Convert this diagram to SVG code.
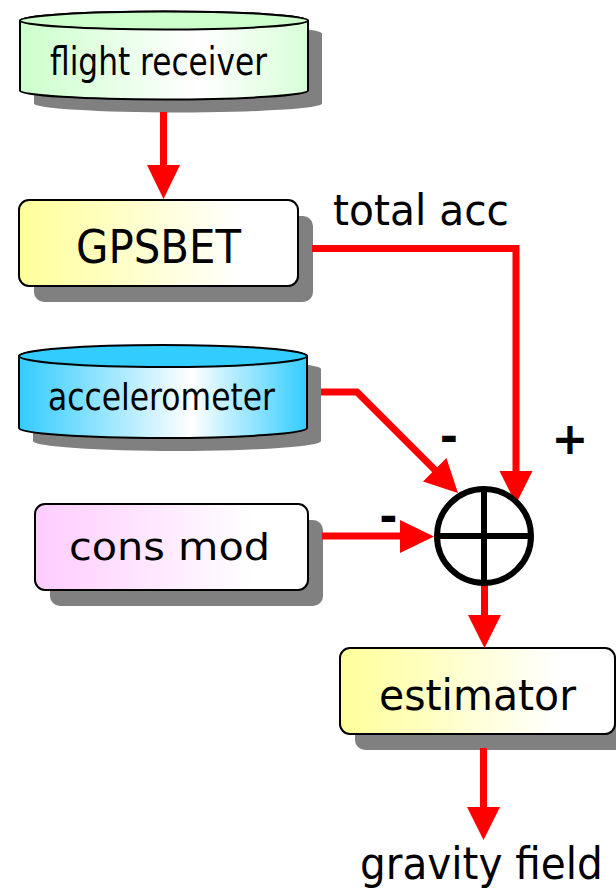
<svg xmlns="http://www.w3.org/2000/svg" width="616" height="892" viewBox="0 0 616 892">
  <defs>
    <linearGradient id="gYellow" x1="0" y1="0" x2="1" y2="0">
      <stop offset="0" stop-color="#FFFF99"/>
      <stop offset="0.8" stop-color="#FFFFFF"/>
      <stop offset="1" stop-color="#FFFFFF"/>
    </linearGradient>
    <linearGradient id="gPink" x1="0" y1="0" x2="1" y2="0">
      <stop offset="0" stop-color="#FFCCFF"/>
      <stop offset="0.8" stop-color="#FFFFFF"/>
      <stop offset="1" stop-color="#FFFFFF"/>
    </linearGradient>
    <linearGradient id="gGreen" x1="0" y1="0" x2="1" y2="0">
      <stop offset="0" stop-color="#CCFFCC"/>
      <stop offset="0.62" stop-color="#FFFFFF"/>
      <stop offset="1" stop-color="#D8FFD8"/>
    </linearGradient>
    <linearGradient id="gCyan" x1="0" y1="0" x2="1" y2="0">
      <stop offset="0" stop-color="#33CCFF"/>
      <stop offset="0.6" stop-color="#FFFFFF"/>
      <stop offset="1" stop-color="#33CCFF"/>
    </linearGradient>
  </defs>
  <style>
    .shadow { fill: #808080; }
    .outline { stroke: #000000; stroke-width: 2; }
    .label { font-family: "DejaVu Sans", "Liberation Sans", sans-serif; fill: #000000; }
    .sign { font-family: "DejaVu Sans", "Liberation Sans", sans-serif; font-weight: bold; font-size: 44px; fill: #000000; text-anchor: middle; }
    .wire { fill: none; stroke: #FF0000; stroke-width: 7; stroke-linejoin: miter; }
    .head { fill: #FF0000; }
  </style>
  <rect width="616" height="892" fill="#FFFFFF"/>

  <!-- source cylinder -->
  <g id="flight-receiver">
    <path class="shadow" d="M34,33.5 v70 a144,9 0 0 0 288,0 v-70 a144,9 0 0 0 -288,0 z"/>
    <path class="outline" fill="url(#gGreen)" d="M20,20.5 v70 a144,9 0 0 0 288,0 v-70 a144,9 0 0 0 -288,0 z"/>
    <ellipse class="outline" cx="164" cy="20.5" rx="144" ry="9" fill="#CCFFCC"/>
    <text class="label" x="50" y="75" font-size="39" textLength="217" lengthAdjust="spacingAndGlyphs">flight receiver</text>
  </g>

  <g id="gpsbet">
    <rect class="shadow" x="34" y="216" width="279" height="86" rx="10"/>
    <rect class="outline" x="19" y="200" width="279" height="86" rx="10" fill="url(#gYellow)"/>
    <text class="label" x="76" y="263" font-size="46" textLength="165" lengthAdjust="spacingAndGlyphs">GPSBET</text>
  </g>

  <g id="accelerometer">
    <path class="shadow" d="M33,369 v72 a144,10 0 0 0 288,0 v-72 a144,10 0 0 0 -288,0 z"/>
    <path class="outline" fill="url(#gCyan)" d="M19,356 v72 a144,10 0 0 0 288,0 v-72 a144,10 0 0 0 -288,0 z"/>
    <ellipse class="outline" cx="163" cy="356" rx="144" ry="11" fill="#33CCFF"/>
    <text class="label" x="48" y="410" font-size="38" textLength="227" lengthAdjust="spacingAndGlyphs">accelerometer</text>
  </g>

  <g id="cons-mod">
    <rect class="shadow" x="50" y="520" width="273" height="86" rx="10"/>
    <rect class="outline" x="35" y="504" width="273" height="86" rx="10" fill="url(#gPink)"/>
    <text class="label" x="69" y="560" font-size="38" textLength="201" lengthAdjust="spacingAndGlyphs">cons mod</text>
  </g>

  <g id="estimator">
    <rect class="shadow" x="355" y="664" width="275" height="86" rx="10"/>
    <rect class="outline" x="340" y="648" width="275" height="86" rx="10" fill="url(#gYellow)"/>
    <text class="label" x="379" y="710" font-size="42" textLength="197" lengthAdjust="spacingAndGlyphs">estimator</text>
  </g>

  <g id="connectors">
    <!-- flight receiver to GPSBET -->
    <line class="wire" x1="163.5" y1="112" x2="163.5" y2="166"/>
    <polygon class="head" points="147,165 180,165 163.5,199"/>
    <!-- total acceleration into the summing junction -->
    <polyline class="wire" points="312,248.5 516,248.5 516,472"/>
    <polygon class="head" points="499.5,471 532.5,471 516,504"/>
    <!-- accelerometer into the summing junction -->
    <polyline class="wire" points="321,392 357,392 436,471"/>
    <polygon class="head" points="446.4,458 423,481.4 458,493"/>
    <!-- model into the summing junction -->
    <line class="wire" x1="322" y1="536" x2="401" y2="536"/>
    <polygon class="head" points="400,520 400,553 434,536.5"/>
    <!-- junction to estimator -->
    <line class="wire" x1="484.5" y1="584" x2="484.5" y2="616"/>
    <polygon class="head" points="468,615 501,615 484.5,648"/>
    <!-- estimator output -->
    <line class="wire" x1="483.5" y1="748" x2="483.5" y2="808"/>
    <polygon class="head" points="467,807 500,807 483.5,840"/>
  </g>

  <g id="summing-junction">
    <circle cx="484" cy="536" r="47" fill="#FFFFFF" stroke="#000000" stroke-width="6"/>
    <line x1="437" y1="536" x2="531" y2="536" stroke="#000000" stroke-width="6"/>
    <line x1="484" y1="489" x2="484" y2="583" stroke="#000000" stroke-width="6"/>
  </g>

  <g id="labels">
    <text class="label" x="333" y="225" font-size="42" textLength="176" lengthAdjust="spacingAndGlyphs">total acc</text>
    <text class="sign" x="449" y="452">-</text>
    <text class="sign" x="570" y="454">+</text>
    <text class="sign" x="388.5" y="532">-</text>
    <!-- output label, narrowed horizontally -->
    <text class="label" transform="translate(360,879) scale(0.922,1)" x="0" y="0" font-size="44">gravity field</text>
  </g>
</svg>
